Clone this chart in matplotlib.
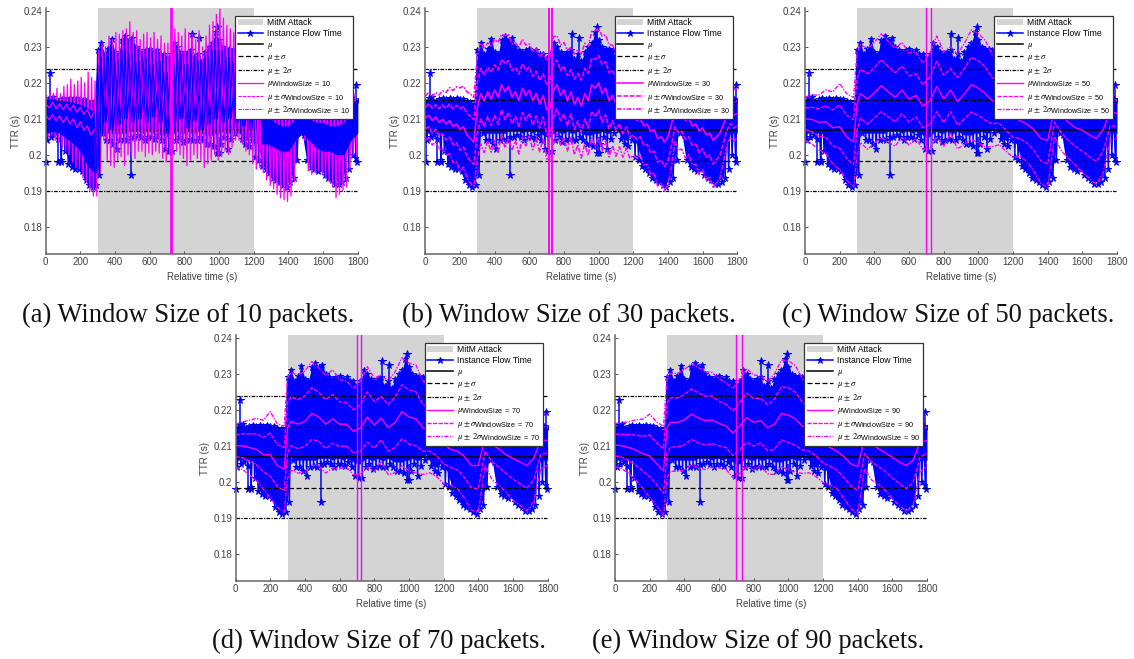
import numpy as np
import matplotlib
matplotlib.use("Agg")
import matplotlib.pyplot as plt
import matplotlib._mathtext as _mt

_mt.SHRINK_FACTOR = 0.84
plt.rcParams['font.family'] = ['Liberation Sans', 'DejaVu Sans']
plt.rcParams['mathtext.fontset'] = 'stix'

W, H = 1134, 659
# ---------- instance flow time: upper / lower edge, every 20 s (0 .. 1800)
flow_top = [
 .2150,.2158,.2160,.2150,.2155,.2158,.2155,.2157,.2155,.2157,
 .2155,.2155,.2150,.2148,.2140,.2290,.2310,.2280,.2295,.2322,
 .2285,.2280,.2320,.2330,.2320,.2325,.2300,.2290,.2285,.2290,
 .2295,.2285,.2290,.2280,.2280,.2270,.2280,.2310,.2300,.2285,
 .2280,.2285,.2290,.2265,.2280,.2260,.2285,.2300,.2310,.2340,
 .2320,.2300,.2295,.2295,.2290,.2270,.2265,.2250,.2240,.2215,
 .2190,.2150,.2140,.2130,.2130,.2125,.2120,.2120,.2125,.2125,
 .2130,.2135,.2135,.2135,.2135,.2130,.2125,.2125,.2125,.2125,
 .2125,.2125,.2125,.2125,.2125,.2130,.2140,.2145,.2155,.2155,
 .2150]
flow_bot = [
 .2040,.2050,.2055,.2045,.1985,.2010,.1975,.1965,.1960,.1960,
 .1955,.1930,.1915,.1910,.1915,.1945,.2060,.2040,.2040,.2030,
 .2015,.2040,.2045,.2040,.2050,.2050,.2055,.2050,.2040,.2050,
 .2050,.2045,.2055,.2040,.2015,.2010,.2010,.2040,.2050,.2035,
 .2040,.2045,.2040,.2040,.2050,.2040,.2030,.2030,.2025,.2005,
 .2030,.2050,.2015,.2045,.2060,.2070,.2045,.2030,.2025,.2040,
 .1995,.1985,.1970,.1960,.1950,.1935,.1930,.1925,.1915,.1910,
 .1925,.1935,.1985,.2060,.2055,.1985,.1965,.1960,.1955,.1960,
 .1945,.1935,.1930,.1920,.1920,.1925,.1935,.1960,.2000,.1990,
 .1980]
# lower edge of the solid part of the trace
flow_core = [
 .2060,.2060,.2060,.2060,.2060,.2060,.2000,.1975,.1965,.1965,
 .1960,.1935,.1920,.1915,.1920,.1950,.2070,.2060,.2060,.2060,
 .2060,.2060,.2060,.2060,.2065,.2065,.2065,.2065,.2060,.2065,
 .2065,.2060,.2065,.2060,.2055,.2050,.2050,.2060,.2065,.2060,
 .2060,.2065,.2060,.2060,.2065,.2060,.2055,.2055,.2055,.2060,
 .2060,.2065,.2060,.2060,.2070,.2075,.2060,.2045,.2040,.2050,
 .2040,.2030,.2000,.1965,.1955,.1940,.1935,.1930,.1920,.1915,
 .1930,.1940,.1990,.2065,.2060,.2000,.1970,.1965,.1960,.1965,
 .1950,.1940,.1935,.1925,.1925,.1930,.1940,.2040,.2060,.2060,
 .2060]
spike_t    = [2, 25, 70, 90, 490, 845, 885, 990, 1000, 1790, 1795]
spike_base = [.206, .215, .205, .205, .205, .228, .228, .232, .205, .215, .205]
spike_val  = [.198, .2227, .198, .198, .1945, .2335, .2325, .2355, .2005, .2195, .198]

# ---------- overall statistics
stat_mu, stat_s = .2068, .0085
attack = (300, 1200)

# ---------- window 10: edges of the moving band, every 20 s
ws10_top = [
 .2165,.2175,.2170,.2185,.2170,.2190,.2195,.2210,.2195,.2205,
 .2215,.2200,.2230,.2215,.2205,.2290,.2310,.2300,.2330,.2320,
 .2340,.2335,.2345,.2350,.2370,.2340,.2345,.2320,.2335,.2340,
 .2325,.2340,.2320,.2330,.2310,.2310,.2310,.2350,.2340,.2330,
 .2350,.2340,.2335,.2320,.2345,.2300,.2330,.2360,.2370,.2390,
 .2405,.2380,.2360,.2350,.2340,.2320,.2310,.2290,.2280,.2250,
 .2230,.2150,.2150,.2150,.2150,.2150,.2150,.2150,.2150,.2150,
 .2150,.2150,.2150,.2150,.2150,.2150,.2150,.2150,.2150,.2150,
 .2150,.2150,.2150,.2150,.2150,.2150,.2150,.2150,.2180,.2170,
 .2150]
ws10_bot = [
 .2050,.2055,.2040,.2035,.2020,.2010,.2000,.1980,.1965,.1960,
 .1935,.1925,.1900,.1885,.1885,.1950,.2040,.1985,.1970,.1965,
 .1985,.1995,.1970,.2000,.2000,.1990,.2010,.2010,.1995,.2005,
 .2000,.2010,.2005,.1990,.1980,.2000,.2000,.2010,.2000,.1990,
 .1970,.1985,.2000,.1990,.1985,.1965,.1975,.1985,.2000,.1985,
 .1995,.2010,.2000,.2020,.2040,.2040,.2030,.2010,.2000,.1975,
 .1960,.1965,.1950,.1930,.1915,.1905,.1890,.1880,.1875,.1870,
 .1885,.1925,.2040,.2060,.2040,.1955,.1945,.1950,.1955,.1945,
 .1935,.1925,.1910,.1880,.1890,.1900,.1910,.1960,.2000,.1995,
 .2000]
# moving mean of window 10 before the attack, every 20 s
ws10_left_mu = [.2110,.2098,.2112,.2095,.2108,.2090,.2105,.2085,.2100,.2075,
                .2092,.2068,.2080,.2055,.2070]
ws10_left_up = [.2142,.2130,.2146,.2128,.2142,.2125,.2140,.2122,.2138,.2118,
                .2132,.2112,.2125,.2102,.2118]

# ---------- window 30: moving mean / std, every 20 s
ws30_mu = [
 .2102,.2110,.2095,.2105,.2090,.2098,.2085,.2095,.2078,.2085,
 .2070,.2078,.2055,.2045,.2035,.2130,.2170,.2150,.2175,.2155,
 .2180,.2160,.2195,.2175,.2190,.2160,.2175,.2150,.2185,.2165,
 .2180,.2150,.2170,.2140,.2165,.2125,.2130,.2180,.2195,.2165,
 .2180,.2150,.2175,.2140,.2160,.2135,.2170,.2150,.2195,.2185,
 .2200,.2170,.2185,.2150,.2165,.2140,.2150,.2125,.2135,.2110,
 .2110,.2095,.2100,.2080,.2085,.2065,.2070,.2045,.2050,.2035,
 .2050,.2085,.2120,.2110,.2115,.2095,.2100,.2080,.2085,.2065,
 .2075,.2055,.2060,.2040,.2050,.2060,.2085,.2110,.2125,.2110,
 .2115]
ws30_sd = [
 .0030,.0032,.0034,.0034,.0038,.0040,.0044,.0046,.0050,.0052,
 .0058,.0056,.0060,.0062,.0062,.0072,.0070,.0072,.0068,.0074,
 .0070,.0076,.0070,.0078,.0072,.0074,.0068,.0074,.0068,.0070,
 .0064,.0068,.0062,.0066,.0060,.0068,.0072,.0074,.0068,.0070,
 .0066,.0070,.0062,.0070,.0066,.0072,.0070,.0076,.0074,.0080,
 .0076,.0080,.0074,.0078,.0070,.0072,.0064,.0066,.0058,.0060,
 .0056,.0052,.0050,.0054,.0056,.0060,.0060,.0066,.0064,.0068,
 .0066,.0060,.0042,.0048,.0050,.0052,.0050,.0054,.0056,.0060,
 .0058,.0062,.0060,.0066,.0064,.0062,.0052,.0042,.0038,.0036,
 .0034]

# ---------- windows 50, 70, 90: moving mean / std
smooth_t = [*range(0, 281, 40), 300, *range(320, 1801, 40)]
ws50_mu = [
 .2100,.2098,.2090,.2092,.2075,.2078,.2050,.2035,.2140,
 .2170,.2155,.2172,.2192,.2175,.2160,.2180,.2155,.2165,.2135,.2150,.2190,
 .2155,.2180,.2148,.2170,.2195,.2185,.2170,.2150,.2148,.2125,.2105,
 .2095,.2085,.2070,.2045,.2040,.2130,.2110,.2090,.2075,.2068,.2055,.2045,.2070,.2120,.2115]
ws50_sd = [
 .0030,.0034,.0038,.0044,.0050,.0060,.0060,.0062,.0072,
 .0068,.0070,.0070,.0072,.0070,.0068,.0066,.0064,.0060,.0060,.0066,.0070,
 .0066,.0060,.0066,.0070,.0076,.0076,.0074,.0064,.0060,.0058,.0056,
 .0050,.0052,.0058,.0062,.0066,.0040,.0050,.0050,.0052,.0058,.0060,.0064,.0060,.0040,.0035]
ws70_mu = [
 .2100,.2100,.2095,.2090,.2075,.2075,.2045,.2035,.2150,
 .2168,.2160,.2168,.2190,.2180,.2160,.2175,.2160,.2160,.2140,.2150,.2180,
 .2158,.2177,.2150,.2165,.2195,.2180,.2175,.2150,.2145,.2130,.2105,
 .2090,.2085,.2070,.2045,.2045,.2125,.2105,.2090,.2075,.2065,.2055,.2045,.2065,.2115,.2115]
ws70_sd = [
 .0030,.0033,.0038,.0043,.0048,.0060,.0058,.0060,.0070,
 .0068,.0068,.0070,.0072,.0068,.0068,.0068,.0062,.0060,.0060,.0065,.0070,
 .0065,.0060,.0065,.0070,.0075,.0075,.0075,.0065,.0060,.0058,.0055,
 .0050,.0052,.0058,.0062,.0065,.0040,.0050,.0050,.0052,.0058,.0060,.0063,.0060,.0040,.0035]
ws90_mu = [
 .2102,.2100,.2095,.2088,.2078,.2072,.2050,.2030,.2150,
 .2165,.2165,.2172,.2188,.2178,.2170,.2172,.2162,.2155,.2135,.2155,.2178,
 .2165,.2170,.2150,.2160,.2190,.2185,.2175,.2155,.2145,.2130,.2108,
 .2095,.2085,.2070,.2050,.2042,.2120,.2105,.2092,.2080,.2068,.2055,.2045,.2060,.2110,.2115]
ws90_sd = [
 .0030,.0032,.0036,.0042,.0048,.0058,.0058,.0062,.0070,
 .0068,.0068,.0070,.0070,.0070,.0068,.0066,.0062,.0060,.0062,.0066,.0068,
 .0066,.0062,.0064,.0070,.0074,.0076,.0074,.0066,.0060,.0058,.0055,
 .0052,.0052,.0058,.0062,.0066,.0042,.0050,.0050,.0052,.0058,.0060,.0064,.0062,.0042,.0035]

# ---------- panel (a): where the trace shows through the moving band
show_top = [
 .2155,.2155,.2150,.2150,.2145,.2140,.2130,.2120,.2250,
 .2270,.2300,.2260,.2290,.2280,.2260,.2270,.2250,.2260,.2230,.2250,.2280,
 .2250,.2280,.2260,.2270,.2290,.2290,.2270,.2260,.2240,.2220,.2190,
 .2120,.2110,.2090,.2080,.2080,.2100,.2120,.2100,.2090,.2090,.2080,.2080,.2090,.2150,.2150]
show_bot = [
 .2060,.2065,.2060,.2045,.2030,.2010,.1970,.1950,.2060,
 .2090,.2070,.2085,.2100,.2090,.2100,.2090,.2105,.2090,.2060,.2090,.2100,
 .2075,.2095,.2070,.2085,.2100,.2090,.2100,.2090,.2080,.2070,.2040,
 .2030,.2030,.2020,.2010,.2010,.2040,.2060,.2040,.2020,.2010,.2010,.2000,.2000,.2040,.2060]

# ---------- vertical excursions of the moving statistics, seconds
jump_10 = [723]
jump_30 = [713, 730]
jump_50 = [700, 726]
jump_70 = [700, 726]
jump_90 = [700, 730]

for s in (flow_top, flow_bot, flow_core, ws10_top, ws10_bot, ws30_mu, ws30_sd):
    assert len(s) == 91
for s in (ws50_mu, ws50_sd, ws70_mu, ws70_sd, ws90_mu, ws90_sd, show_top, show_bot):
    assert len(s) == len(smooth_t) == 47

captions = ['(a) Window Size of 10 packets.', '(b) Window Size of 30 packets.',
            '(c) Window Size of 50 packets.', '(d) Window Size of 70 packets.',
            '(e) Window Size of 90 packets.']
x_ticks = list(range(0, 1801, 200))
y_ticks = [.18, .19, .20, .21, .22, .23, .24]
y_labels = ['0.18', '0.19', '0.2', '0.21', '0.22', '0.23', '0.24']

MAG = '#ff00ff'
BLUE = '#0000ff'
INK = '#404040'

fig = plt.figure(figsize=(W / 100, H / 100), dpi=100, facecolor='white')

def make_axes(left, top):
    ax = fig.add_axes([left / W, 1 - (top + 246) / H, 312 / W, 246 / H])
    ax.set_xlim(0, 1800)
    ax.set_ylim(.1724, .2408)
    return ax

def base(ax):
    ax.axvspan(*attack, color='#d4d4d4', lw=0, zorder=0, label='MitM Attack')
    t = np.arange(91) * 20
    ax.fill_between(t, flow_core, flow_top, color=BLUE, lw=0, zorder=2)
    xs = np.column_stack([t, t + 10]).ravel()[:-1]
    ys = np.column_stack([flow_top, flow_bot]).ravel()[:-1]
    ax.plot(xs, ys, color=BLUE, lw=1.1, marker='*', ms=5, mew=.7, zorder=2,
            label='Instance Flow Time')
    ax.vlines(spike_t, spike_base, spike_val, color=BLUE, lw=1.1, zorder=2)
    ax.plot(spike_t, spike_val, ls='none', color=BLUE, marker='*', ms=5.5, mew=.7, zorder=2,
            clip_on=False)
    ax.plot([0, 1795], [stat_mu] * 2, color='black', lw=1.1, zorder=3, label=r'$\mu$')
    for k, ls, lab in ((1, (0, (4, 2)), r'$\mu\pm\sigma$'), (2, (0, (3, 1, 1, 1)), r'$\mu\pm\ 2\sigma$')):
        ax.plot([0, 1795], [stat_mu + k * stat_s] * 2, color='black', lw=.9, ls=ls, zorder=3, label=lab)
        ax.plot([0, 1795], [stat_mu - k * stat_s] * 2, color='black', lw=.9, ls=ls, zorder=3)

def sub(ws):
    return r'_{\mathregular{WindowSize\ =\ %d}}' % ws

def moving(ax, t, mu, sd, ws, lw):
    mu, sd = np.array(mu), np.array(sd)
    ax.plot(t, mu, color=MAG, lw=lw, zorder=4, label=r'$\mu%s$' % sub(ws))
    ax.plot(t, mu + sd, color=MAG, lw=lw, ls=(0, (3, 1)), zorder=4, label=r'$\mu\pm\sigma%s$' % sub(ws))
    ax.plot(t, mu - sd, color=MAG, lw=lw, ls=(0, (3, 1)), zorder=4)
    ax.plot(t, mu + 2 * sd, color=MAG, lw=lw, ls=(0, (3, 1, 1, 1)), zorder=4, label=r'$\mu\pm\ 2\sigma%s$' % sub(ws))
    ax.plot(t, mu - 2 * sd, color=MAG, lw=lw, ls=(0, (3, 1, 1, 1)), zorder=4)

def finish(ax, jumps, jw):
    for j in jumps:
        ax.axvline(j, color=MAG, lw=jw, zorder=5)
    for s in ('top', 'right'):
        ax.spines[s].set_visible(False)
    for s in ('left', 'bottom'):
        ax.spines[s].set_color('#666666')
        ax.spines[s].set_linewidth(1.1)
    ax.spines['left'].set_zorder(6)
    ax.set_xticks(x_ticks)
    ax.set_yticks(y_ticks, y_labels)
    ax.tick_params(direction='in', length=2.5, width=.6, color='#333333', labelsize=7.0,
                   labelcolor=INK, pad=2.5)
    ax.set_xlabel('Relative time (s)', fontsize=7.0, color=INK, labelpad=3)
    ax.set_ylabel('TTR (s)', fontsize=7.0, color=INK, labelpad=2)
    leg = ax.legend(loc='upper left', bbox_to_anchor=(.6067, .9687), borderaxespad=0,
                    fontsize=6.2, framealpha=1, fancybox=False, edgecolor='#333333',
                    handlelength=3.0, handletextpad=.45, labelspacing=.2, borderpad=.3)
    leg.get_frame().set_linewidth(.9)
    leg.set_zorder(10)

lefts = [45.7, 425.3, 805, 235.6, 615]
tops = [8, 8, 8, 335, 335]
axs = [make_axes(l, t) for l, t in zip(lefts, tops)]

# (a)
ax = axs[0]
base(ax)
t = np.arange(91) * 20
xs = np.column_stack([t + 5, t + 15]).ravel()[:-1]
ys = np.column_stack([ws10_top, ws10_bot]).ravel()[:-1]
ax.plot(xs, ys, color=MAG, lw=.95, zorder=4)
ax.plot([], [], color=MAG, lw=.9, label=r'$\mu%s$' % sub(10))
ax.plot([], [], color=MAG, lw=.8, ls=(0, (3, 1)), label=r'$\mu\pm\sigma%s$' % sub(10))
ax.plot([], [], color=MAG, lw=.8, ls=(0, (3, 1, 1, 1)), label=r'$\mu\pm\ 2\sigma%s$' % sub(10))
st = np.array(smooth_t, float)
stop, sbot = np.array(show_top), np.array(show_bot)
mid = (st >= 280) & (st <= 1200)
ax.plot(np.column_stack([st[mid], st[mid] + 15]).ravel()[:-1],
        np.column_stack([stop[mid], sbot[mid]]).ravel()[:-1],
        color=BLUE, lw=.8, zorder=4.5)
ax.plot(np.column_stack([st[mid] + 20, st[mid] + 30]).ravel()[:-1],
        np.column_stack([stop[mid], sbot[mid]]).ravel()[:-1],
        color=BLUE, lw=.8, zorder=4.5)
ax.fill_between(st[st <= 280], sbot[st <= 280], stop[st <= 280], color=BLUE, lw=0, zorder=4.5)
ax.fill_between(st[st >= 1240], sbot[st >= 1240], stop[st >= 1240], color=BLUE, lw=0, zorder=4.5)
tl = t[:15]
ax.plot(tl, ws10_left_mu, color=MAG, lw=.9, zorder=4.6)
ax.plot(tl, ws10_left_up, color=MAG, lw=.9, zorder=4.6)
finish(ax, jump_10, 2.0)

# (b)
ax = axs[1]
base(ax)
moving(ax, np.arange(91) * 20, ws30_mu, ws30_sd, 30, 1.15)
finish(ax, jump_30, 1.4)

# (c)
ax = axs[2]
base(ax)
moving(ax, smooth_t, ws50_mu, ws50_sd, 50, 1.0)
finish(ax, jump_50, 1.0)

# (d)
ax = axs[3]
base(ax)
moving(ax, smooth_t, ws70_mu, ws70_sd, 70, 1.0)
finish(ax, jump_70, 1.0)

# (e)
ax = axs[4]
base(ax)
moving(ax, smooth_t, ws90_mu, ws90_sd, 90, 1.0)
finish(ax, jump_90, 1.0)

cap_x = [188.5, 568.5, 948, 379, 758]
cap_y = [315, 315, 315, 641, 641]
for c, x, y in zip(captions, cap_x, cap_y):
    fig.text(x / W, 1 - y / H, c, family='Liberation Serif', fontsize=19.1, color='#111111',
             ha='center', va='center')

fig.savefig('out.png', dpi=100)
